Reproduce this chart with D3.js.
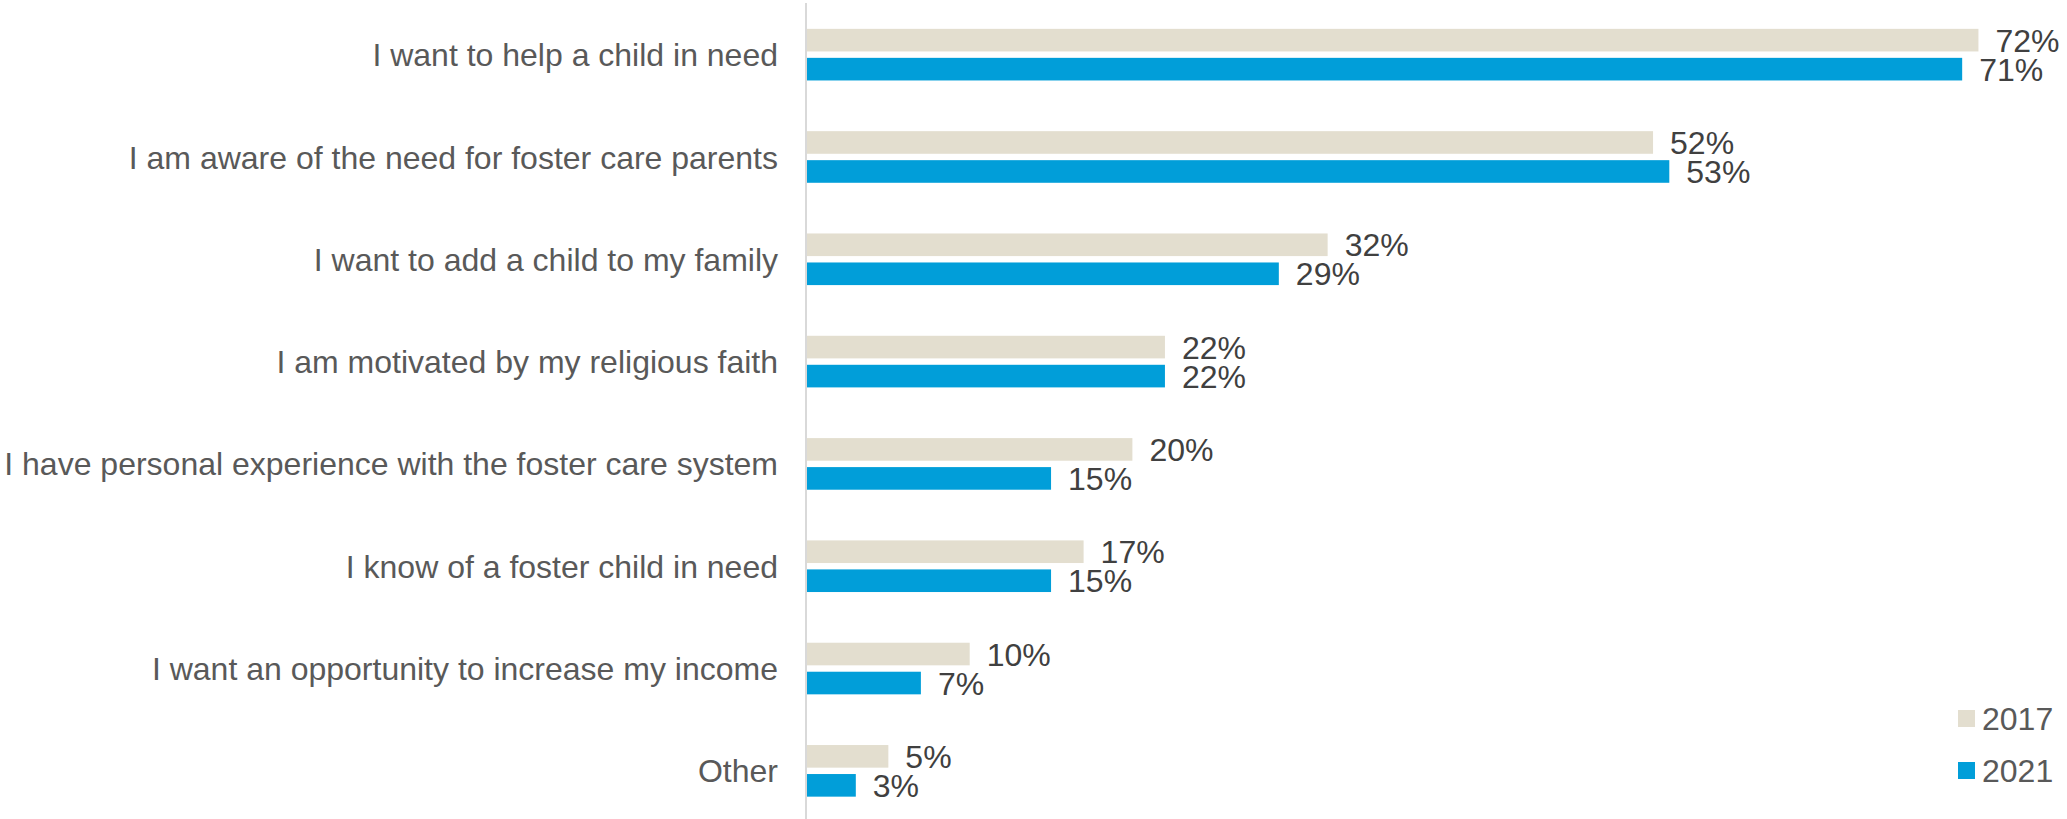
<!DOCTYPE html>
<html>
<head>
<meta charset="utf-8">
<script src="https://cdn.jsdelivr.net/npm/d3@7/dist/d3.min.js"></script>
<style>
  html, body { margin: 0; padding: 0; background: #ffffff; }
  svg { display: block; }
  text { font-family: "Liberation Sans", Arial, sans-serif; }
</style>
</head>
<body>
<svg id="chart" width="2067" height="819"></svg>
<script>
// Reasons for considering becoming a foster parent, by survey year
const categories = [
  "I want to help a child in need",
  "I am aware of the need for foster care parents",
  "I want to add a child to my family",
  "I am motivated by my religious faith",
  "I have personal experience with the foster care system",
  "I know of a foster child in need",
  "I want an opportunity to increase my income",
  "Other"
];
const seriesNames = ["2017", "2021"];
const values2017 = [72, 52, 32, 22, 20, 17, 10, 5];
const values2021 = [71, 53, 29, 22, 15, 15, 7, 3];
const seriesColors = ["#e3decf", "#019ed9"];

const seriesValues = [values2017, values2021];
const rows = categories.map((c, i) => ({
  category: c,
  bars: seriesNames.map((s, j) => ({ series: s, value: seriesValues[j][i], color: seriesColors[j] }))
}));

const svg = d3.select("#chart");
const axisX = 806;

const x = d3.scaleLinear().domain([0, 80]).range([axisX + 1, axisX + 1 + 80 * 16.27]);
const y = d3.scaleBand().domain(categories).range([3.5, 822]).paddingInner(0).paddingOuter(0);
const yInner = d3.scaleBand().domain(seriesNames).range([0, y.bandwidth()])
  .paddingInner(0.22).paddingOuter(0.874);

// bars
const groups = svg.append("g").selectAll("g")
  .data(rows).join("g")
  .attr("transform", d => `translate(0,${y(d.category)})`);

groups.selectAll("rect")
  .data(d => d.bars).join("rect")
  .attr("x", x(0))
  .attr("y", d => yInner(d.series))
  .attr("width", d => x(d.value) - x(0))
  .attr("height", yInner.bandwidth())
  .attr("fill", d => d.color);

// value labels
groups.selectAll("text.val")
  .data(d => d.bars).join("text")
  .attr("class", "val")
  .attr("x", d => x(d.value) + 17)
  .attr("y", d => yInner(d.series) + yInner.bandwidth() / 2)
  .attr("dy", "0.36em")
  .attr("font-size", 32)
  .attr("fill", "#404040")
  .text(d => d.value + "%");

// category axis
const yAxis = d3.axisLeft(y).tickSize(0).tickPadding(28);
const axisG = svg.append("g")
  .attr("transform", `translate(${axisX},0)`)
  .call(yAxis);
axisG.select(".domain").remove();
axisG.selectAll("text")
  .attr("font-size", 32)
  .attr("font-family", "'Liberation Sans', Arial, sans-serif")
  .attr("fill", "#595959")
  .attr("dy", "0.36em");

svg.append("line")
  .attr("x1", axisX).attr("x2", axisX)
  .attr("y1", 3).attr("y2", 819)
  .attr("stroke", "#d9d9d9")
  .attr("stroke-width", 2);

// legend
const legend = svg.append("g").attr("transform", "translate(1958,710)");
const items = legend.selectAll("g")
  .data(seriesNames).join("g")
  .attr("transform", (d, i) => `translate(0,${i * 52})`);
items.append("rect")
  .attr("width", 17).attr("height", 17)
  .attr("fill", (d, i) => seriesColors[i]);
items.append("text")
  .attr("x", 24).attr("y", 8.5)
  .attr("dy", "0.36em")
  .attr("font-size", 32)
  .attr("fill", "#595959")
  .text(d => d);
</script>
</body>
</html>
